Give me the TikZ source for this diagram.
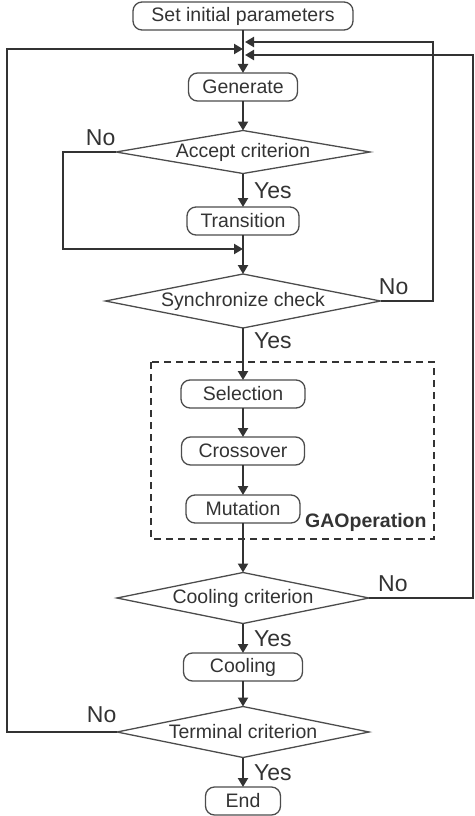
\documentclass[tikz,border=0pt]{standalone}
\usepackage{fontspec}
\setmainfont{Liberation Sans}
\usetikzlibrary{arrows.meta,positioning,calc,shapes.geometric}
\newcommand{\boxfont}{\fontsize{19.5}{22}\selectfont}
\newcommand{\ynfont}{\fontsize{23}{26}\selectfont}

\begin{document}
\begin{tikzpicture}[
  x=1pt, y=1pt,
  font=\boxfont, text=black!80,
  proc/.style={draw=black!70, line width=1.3pt, rounded corners=9pt,
               minimum height=28pt, inner sep=2pt, outer sep=0pt},
  decision/.style={draw=black!70, line width=1.3pt, diamond, aspect=5.5,
                   inner sep=-4pt, outer sep=0pt},
  arrow/.style={-{Triangle[length=9pt,width=10pt]}, line width=2.1pt, draw=black!80},
  yn/.style={font=\ynfont, inner sep=2pt},
  dbox/.style={draw=black!80, line width=1.6pt, dash pattern=on 7pt off 5pt}
]
\useasboundingbox (0,0) rectangle (474,-816);
\node[proc, minimum width=220pt] (start) at (243,-16) {Set initial parameters};
\node[proc, minimum width=109pt, below=43pt of start] (gen) {Generate};
\node[decision, minimum width=254pt, minimum height=43pt, below=29.5pt of gen] (acc)
  {Accept criterion};
\node[proc, minimum width=112pt, below=33.5pt of acc] (trans) {Transition};
\node[decision, minimum width=275pt, minimum height=54pt, below=39pt of trans] (sync)
  {Synchronize check};
\node[proc, minimum width=124pt, below=52pt of sync] (sel) {Selection};
\node[proc, minimum width=123pt, below=29pt of sel] (cross) {Crossover};
\node[proc, minimum width=114pt, below=30pt of cross] (mut) {Mutation};
\node[decision, minimum width=252pt, minimum height=51pt, below=49.5pt of mut] (coolc)
  {Cooling criterion};
\node[proc, minimum width=119pt, below=29.5pt of coolc] (cool) {Cooling};
\node[decision, minimum width=252pt, minimum height=51pt, below=25.5pt of cool] (term)
  {Terminal criterion};
\node[proc, minimum width=75pt, below=29.5pt of term] (end) {End};
% entry points of the loops
\coordinate[below=12pt of start] (inR1);
\coordinate[below=19pt of start] (inL);
\coordinate[below=25pt of start] (inR2);
\coordinate[below=14pt of trans] (merge);
% GA block
\node[font=\boxfont\bfseries, anchor=base west, inner sep=0pt]
  (ga) at ($(mut.south east)+(5pt,-4pt)$) {GAOperation};
\draw[dbox] ($(sel.north west)+(-30pt,18pt)$) rectangle ($(mut.south)+(191pt,-16pt)$);
% main flow
\draw[arrow] (start) -- (gen);
\draw[arrow] (gen) -- (acc);
\draw[arrow] (acc) -- node[yn, right=8pt]{Yes} (trans);
\draw[arrow] (trans) -- (sync);
\draw[arrow] (sync) -- node[yn, right=8pt, pos=.25]{Yes} (sel);
\draw[arrow] (sel) -- (cross);
\draw[arrow] (cross) -- (mut);
\draw[arrow] (mut) -- (coolc);
\draw[arrow] (coolc) -- node[yn, right=8pt]{Yes} (cool);
\draw[arrow] (cool) -- (term);
\draw[arrow] (term) -- node[yn, right=8pt]{Yes} (end);
% loops
\draw[arrow] (acc.west) -- node[yn, above=3pt, pos=.29]{No} ++(-53pt,0) |- (merge);
\draw[arrow, shorten >=2pt] (sync.east) -- node[yn, above=3pt, pos=.25]{No} ++(52.5pt,0) |- (inR1);
\draw[arrow, shorten >=2pt] (coolc.east) -- node[yn, above=3pt, pos=.23]{No} ++(104pt,0) |- (inR2);
\draw[arrow] (term.west) -- node[yn, above=6pt, pos=.14]{No} ++(-110pt,0) |- (inL);
\end{tikzpicture}
\end{document}
